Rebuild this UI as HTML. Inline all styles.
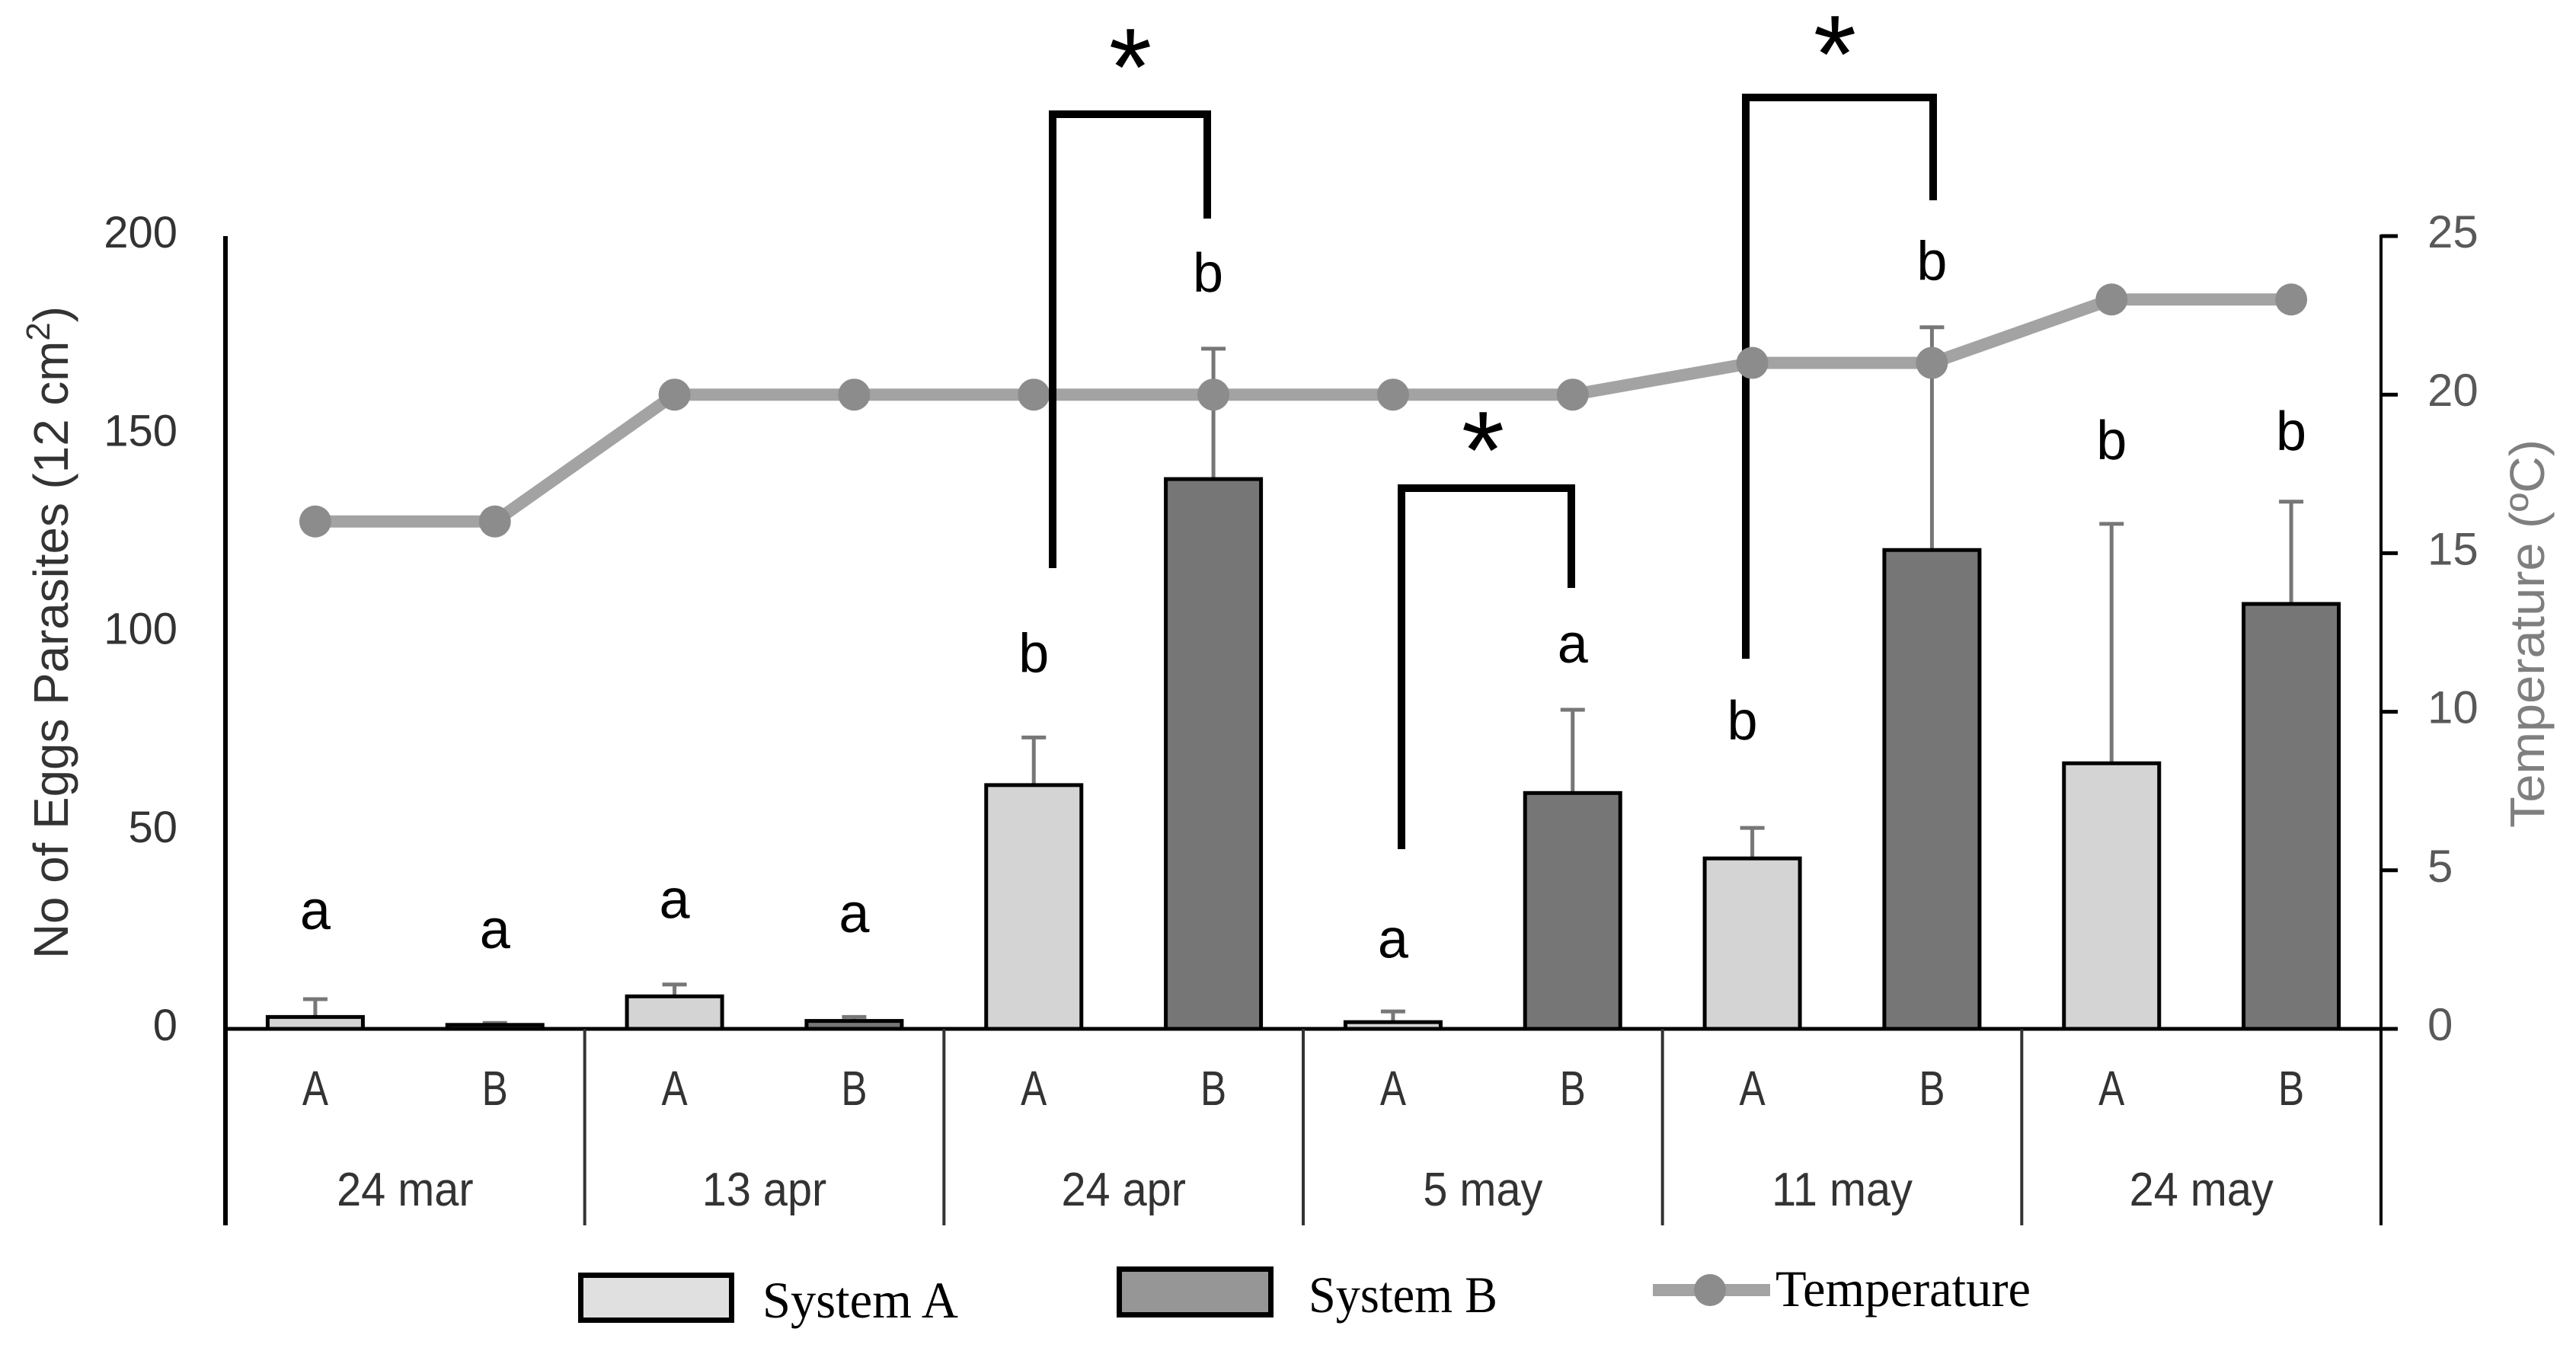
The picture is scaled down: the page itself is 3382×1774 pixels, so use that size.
<!DOCTYPE html>
<html lang="en">
<head>
<meta charset="utf-8">
<title>Eggs parasites by system and temperature</title>
<style>
html,body{margin:0;padding:0;background:#fff;}
svg{display:block;}
text{font-family:"Liberation Sans",sans-serif;}
.serif{font-family:"Liberation Serif",serif;fill:#000;font-size:68px;}
</style>
</head>
<body>
<svg id="chart" xmlns="http://www.w3.org/2000/svg" width="3382" height="1774" viewBox="0 0 3382 1774">
  <rect x="0" y="0" width="3382" height="1774" fill="#fff"/>

  <g id="bars"></g>
  <path d="M2292 865V128H2538V263" fill="none" stroke="#000" stroke-width="10"/>
  <g id="line"></g>
  <path d="M1382 746V150H1585V287" fill="none" stroke="#000" stroke-width="10"/>
  <path d="M1840 1115V641H2063V772" fill="none" stroke="#000" stroke-width="10"/>

  <text x="1484" y="138" font-size="145" text-anchor="middle" fill="#000">*</text>
  <text x="1947" y="641" font-size="145" text-anchor="middle" fill="#000">*</text>
  <text x="2409" y="121" font-size="145" text-anchor="middle" fill="#000">*</text>

  <g id="axes"></g>
  <g id="letters"></g>

  <text transform="translate(89,1259) rotate(-90)" font-size="64" fill="#333" textLength="857" lengthAdjust="spacingAndGlyphs">No of Eggs Parasites (12 cm<tspan font-size="44" dy="-24">2</tspan><tspan dy="24">)</tspan></text>
  <text transform="translate(3340,1087) rotate(-90)" font-size="64" fill="#7f7f7f" textLength="510" lengthAdjust="spacingAndGlyphs">Temperature (ºC)</text>

  <g>
    <rect x="762.5" y="1674.5" width="198" height="59" fill="#e0e0e0" stroke="#000" stroke-width="7"/>
    <text class="serif" x="1001" y="1730" textLength="257" lengthAdjust="spacingAndGlyphs">System A</text>
    <rect x="1469.5" y="1666.5" width="199" height="60" fill="#969696" stroke="#000" stroke-width="7"/>
    <text class="serif" x="1718" y="1723" textLength="248" lengthAdjust="spacingAndGlyphs">System B</text>
    <line x1="2170" y1="1694" x2="2324" y2="1694" stroke="#a3a3a3" stroke-width="16"/>
    <circle cx="2245" cy="1694" r="21" fill="#8c8c8c"/>
    <text class="serif" x="2331" y="1715" textLength="335" lengthAdjust="spacingAndGlyphs">Temperature</text>
  </g>
</svg>
<script>
const groupLabels = ["24 mar", "13 apr", "24 apr", "5 may", "11 may", "24 may"];
const systemLabels = ["A", "B"];
const systemAValues = [3, 8.2, 61.5, 1.7, 43, 67];
const systemBValues = [1, 2, 138.7, 59.5, 120.8, 107.2];
const systemAErrors = [4.5, 3, 12, 2.7, 7.7, 60.4];
const systemBErrors = [0.5, 1, 32.9, 21, 56.2, 25.8];
const temperatureValues = [16, 16, 20, 20, 20, 20, 20, 20, 21, 21, 23, 23];
const leftTicks = [0, 50, 100, 150, 200];
const rightTicks = [0, 5, 10, 15, 20, 25];
const letterLabels = ["a", "a", "a", "a", "b", "b", "a", "a", "b", "b", "b", "b"];
const letterLevels = [25.2, 20.4, 28, 24.4, 90, 186, 18, 92.4, 73, 189, 143.7, 146];

const SVG_NS = "http://www.w3.org/2000/svg";
const plotLeft = 296, plotRight = 3126, plotTop = 310, plotBase = 1351, plotBottom = 1609;
const groupWidth = (plotRight - plotLeft) / groupLabels.length;
const barWidth = 125;

function yLeft(v) { return plotBase - v * (plotBase - plotTop) / leftTicks[leftTicks.length - 1]; }
function yRight(v) { return plotBase - v * (plotBase - plotTop) / rightTicks[rightTicks.length - 1]; }
function xSlot(i) { return plotLeft + (i + 0.5) * groupWidth / 2; }
function node(tag, parent) {
  const el = document.createElementNS(SVG_NS, tag);
  parent.appendChild(el);
  return el;
}
function style(el, props) {
  for (const k in props) el.setAttribute(k, props[k]);
}

const barsLayer = document.getElementById("bars");
const lineLayer = document.getElementById("line");
const axesLayer = document.getElementById("axes");
const lettersLayer = document.getElementById("letters");

function drawBar(slot, value, err, fill) {
  const cx = xSlot(slot);
  const top = yLeft(value), errTop = yLeft(value + err);
  const stem = node("line", barsLayer);
  
  
  style(stem, {x1: cx, x2: cx, y1: top, y2: errTop, stroke: "#777", "stroke-width": 5});
  const cap = node("line", barsLayer);
  
  
  style(cap, {x1: cx - 16, x2: cx + 16, y1: errTop, y2: errTop, stroke: "#777", "stroke-width": 5});
  const bar = node("rect", barsLayer);
  
  
  style(bar, {x: cx - barWidth / 2, y: top, width: barWidth, height: plotBase - top, fill: fill, stroke: "#000", "stroke-width": 5});
}
groupLabels.forEach(function (g, i) {
  drawBar(i * 2, systemAValues[i], systemAErrors[i], "#d4d4d4");
  drawBar(i * 2 + 1, systemBValues[i], systemBErrors[i], "#767676");
});

const tempLine = node("polyline", lineLayer);


style(tempLine, {points: temperatureValues.map(function (t, i) { return xSlot(i) + "," + yRight(t); }).join(" "), fill: "none", stroke: "#a3a3a3", "stroke-width": 16});
temperatureValues.forEach(function (t, i) {
  const dot = node("circle", lineLayer);
  
  
  style(dot, {cx: xSlot(i), cy: yRight(t), r: 21, fill: "#8c8c8c"});
});

const leftAxis = node("line", axesLayer);


style(leftAxis, {x1: plotLeft, x2: plotLeft, y1: plotTop, y2: plotBottom, stroke: "#000", "stroke-width": 6});
const rightAxis = node("line", axesLayer);


style(rightAxis, {x1: plotRight, x2: plotRight, y1: plotTop - 2, y2: plotBottom, stroke: "#000", "stroke-width": 4});
const baseAxis = node("line", axesLayer);


style(baseAxis, {x1: plotLeft, x2: plotRight + 22, y1: plotBase, y2: plotBase, stroke: "#000", "stroke-width": 5});

for (let i = 1; i < groupLabels.length; i++) {
  const sep = node("line", axesLayer);
  
  
  const x = plotLeft + i * groupWidth;
  style(sep, {x1: x, x2: x, y1: plotBase, y2: plotBottom, stroke: "#333", "stroke-width": 4});
}
leftTicks.forEach(function (v) {
  const t = node("text", axesLayer);
  
  
  style(t, {x: 233, y: yLeft(v) + 15, "text-anchor": "end", "font-size": 58, fill: "#333"});
  t.textContent = v;
});
rightTicks.forEach(function (v) {
  const tick = node("line", axesLayer);
  
  
  style(tick, {x1: plotRight, x2: plotRight + 22, y1: yRight(v), y2: yRight(v), stroke: "#000", "stroke-width": 5});
  const t = node("text", axesLayer);
  
  
  style(t, {x: 3187, y: yRight(v) + 15, "font-size": 60, fill: "#595959"});
  t.textContent = v;
});
groupLabels.forEach(function (g, i) {
  systemLabels.forEach(function (s, j) {
    const t = node("text", axesLayer);
    
    
    style(t, {transform: "translate(" + xSlot(i * 2 + j) + ",1451) scale(0.8,1)", "text-anchor": "middle", "font-size": 64, fill: "#333"});
    t.textContent = s;
  });
  const gl = node("text", axesLayer);
  
  
  style(gl, {transform: "translate(" + (plotLeft + (i + 0.5) * groupWidth) + ",1583) scale(0.93,1)", "text-anchor": "middle", "font-size": 62, fill: "#333"});
  gl.textContent = g;
});
letterLabels.forEach(function (l, i) {
  const t = node("text", lettersLayer);
  
  
  const nudge = i === 8 ? -13 : (i === 5 ? -7 : 0);
  style(t, {x: xSlot(i) + nudge, y: yLeft(letterLevels[i]), "text-anchor": "middle", "font-size": 72, fill: "#000"});
  t.textContent = l;
});
</script>
</body>
</html>
